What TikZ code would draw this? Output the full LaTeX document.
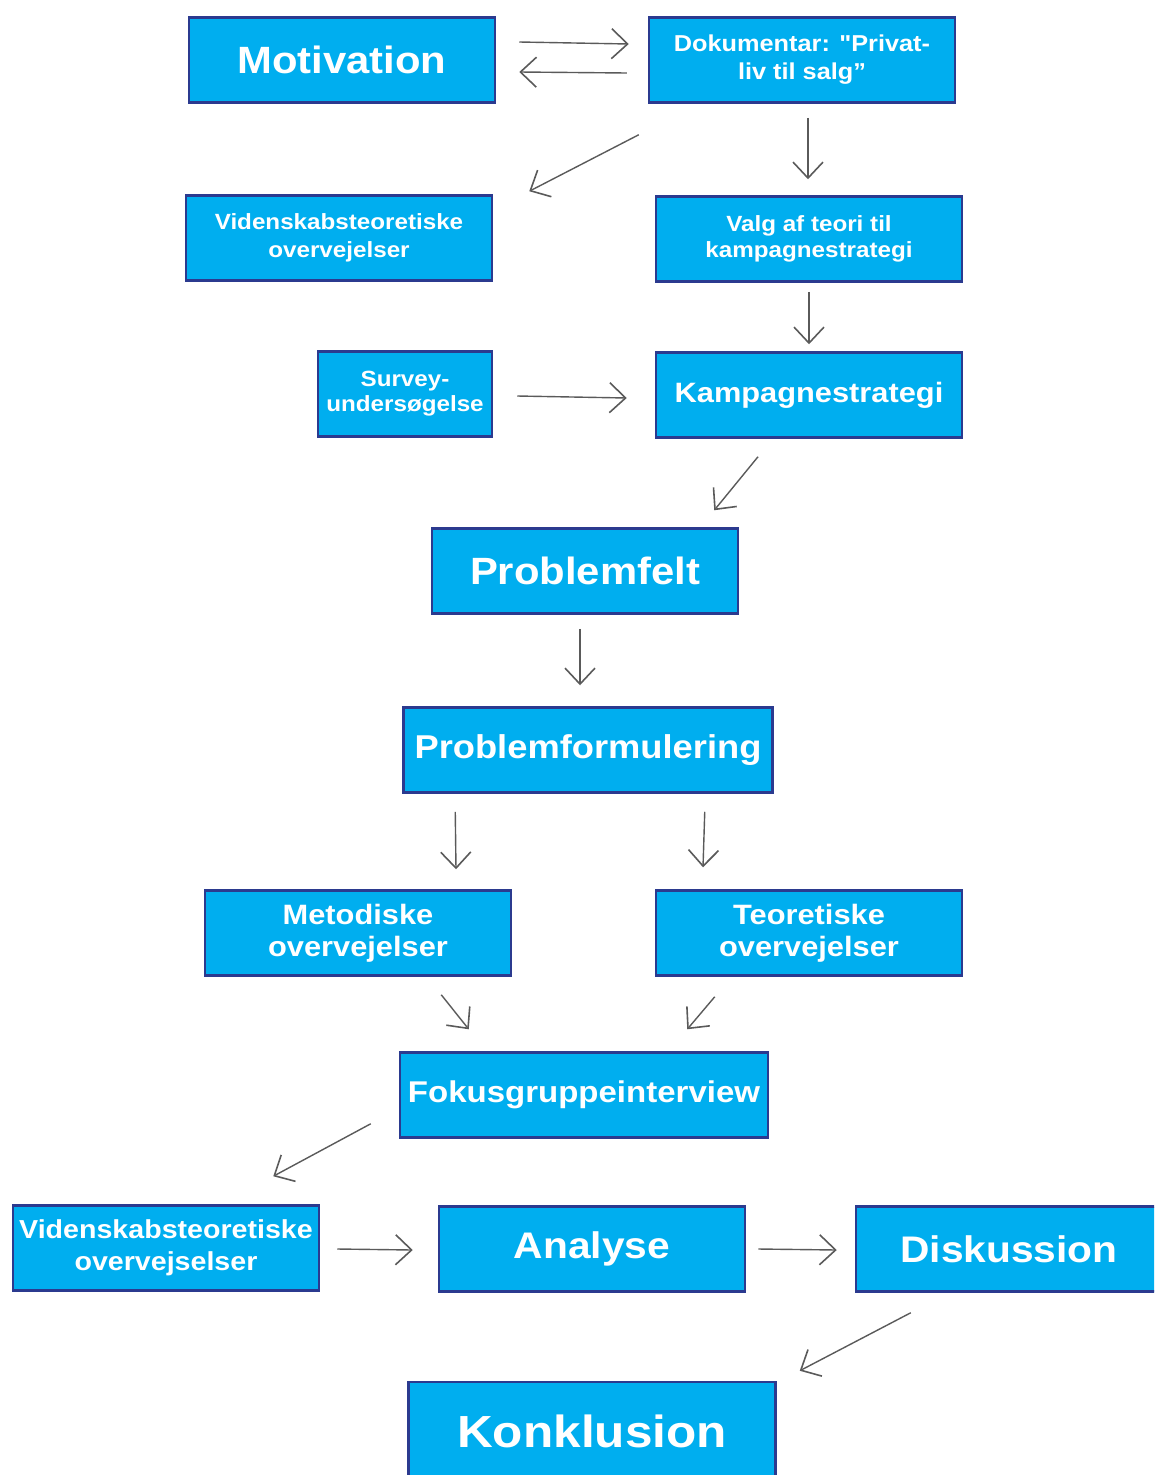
\documentclass[tikz,border=0pt]{standalone}
\usepackage{fontspec}
\newfontfamily\boxfont{Liberation Sans}[FakeStretch=1.1]
\usetikzlibrary{arrows.meta}
\definecolor{boxfill}{HTML}{00AEEF}
\definecolor{boxline}{HTML}{2B3A8F}
\definecolor{arrgray}{HTML}{5A5A5A}
\newcommand{\fs}[2]{\boxfont\fontsize{#1}{#2}\selectfont\bfseries}
\tikzset{
  box/.style={draw=boxline, fill=boxfill, line width=2.5pt, text=white,
    align=center, inner sep=0pt, minimum width=306pt, minimum height=85pt},
  arr/.style={draw=arrgray, line width=1.4pt,
    -{Straight Barb[length=16pt,width=30pt,line width=1.6pt]}}
}
\begin{document}
\begin{tikzpicture}[x=1pt,y=-1pt]
\useasboundingbox (0,0) rectangle (1154,1475);
\begin{scope}
\clip (0,0) rectangle (1154,1475);
% boxes
\node[box, font=\fs{38}{44}] (mot) at (342,60) {Motivation};
\node[box, font=\fs{23}{28}] (dok) at (802,60) {Dokumentar: "Privat-\\liv til salg”};
\node[box, font=\fs{22}{28}] (vid1) at (339,238) {Videnskabsteoretiske\\overvejelser};
\node[box, font=\fs{22}{26}] (valg) at (809,239) {Valg af teori til\\kampagnestrategi};
\node[box, font=\fs{22}{25}, minimum width=174pt] (surv) at (405,394) {Survey-\\undersøgelse};
\node[box, font=\fs{28}{34}] (kamp) at (809,395) {Kampagnestrategi};
\node[box, font=\fs{38}{44}] (pfelt) at (585,571) {Problemfelt};
\node[box, font=\fs{33}{40}, minimum width=369pt] (pform) at (588,750) {Problemformulering};
\node[box, font=\fs{28}{32}] (met) at (358,933) {Metodiske\\overvejelser};
\node[box, font=\fs{28}{32}] (teo) at (809,933) {Teoretiske\\overvejelser};
\node[box, font=\fs{30}{36}, minimum width=368pt] (fok) at (584,1095) {Fokusgruppeinterview};
\node[box, font=\fs{26}{32}] (vid2) at (166,1248) {Videnskabsteoretiske\\overvejselser};
\node[box, font=\fs{37}{44}] (ana) at (592,1249) {Analyse};
\node[box, font=\fs{37}{44}] (dis) at (1009,1249) {Diskussion};
\node[box, font=\fs{45}{52}, minimum width=367pt, minimum height=98pt] (kon) at (592,1431) {Konklusion};
\end{scope}
% connectors
\draw[arr] ([shift={(23,-18)}]mot.east) -- ([shift={(-19,-16)}]dok.west);
\draw[arr] ([shift={(-21,13)}]dok.west) -- ([shift={(23,12)}]mot.east);
\draw[arr] ([shift={(-9,31)}]dok.south west) -- ([shift={(36,-3)}]vid1.north east);
\draw[arr] ([shift={(6,14)}]dok.south) -- ([shift={(-1,-16)}]valg.north);
\draw[arr] ([shift={(0,9)}]valg.south) -- ([shift={(0,-7)}]kamp.north);
\draw[arr] ([shift={(24,2)}]surv.east) -- ([shift={(-28,3)}]kamp.west);
\draw[arr] ([shift={(-51,18)}]kamp.south) -- ([shift={(-25,-17)}]pfelt.north east);
\draw[arr] ([shift={(-5,14)}]pfelt.south) -- ([shift={(-8,-21)}]pform.north);
\draw[arr] ([shift={(53,18)}]pform.south west) -- ([shift={(98,-20)}]met.north);
\draw[arr] ([shift={(-69,18)}]pform.south east) -- ([shift={(-106,-22)}]teo.north);
\draw[arr] ([shift={(-71,18)}]met.south east) -- ([shift={(70,-22)}]fok.north west);
\draw[arr] ([shift={(60,20)}]teo.south west) -- ([shift={(-82,-22)}]fok.north east);
\draw[arr] ([shift={(-28,-15)}]fok.south west) -- ([shift={(-47,-28)}]vid2.north east);
\draw[arr] ([shift={(17,1)}]vid2.east) -- ([shift={(-25,1)}]ana.west);
\draw[arr] ([shift={(12,0)}]ana.east) -- ([shift={(-18,1)}]dis.west);
\draw[arr] ([shift={(56,20)}]dis.south west) -- ([shift={(23,-10)}]kon.north east);
\end{tikzpicture}
\end{document}
